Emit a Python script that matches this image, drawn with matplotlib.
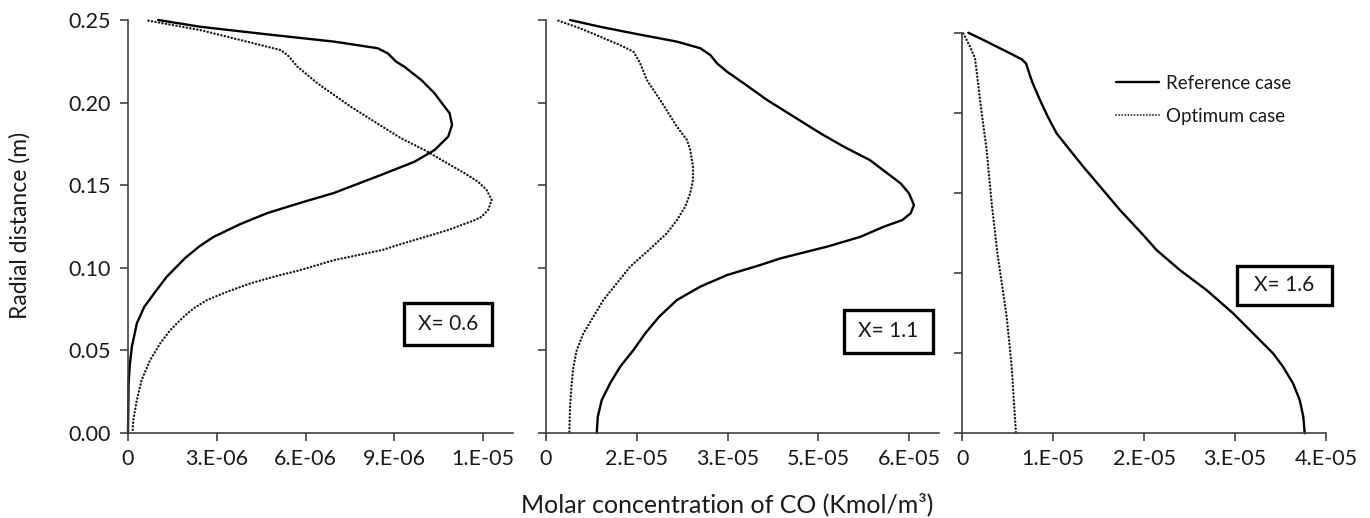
import matplotlib
matplotlib.use("Agg")
import matplotlib.pyplot as plt
from matplotlib.patches import Rectangle
from matplotlib.lines import Line2D

plt.rcParams['font.family'] = ['Lato', 'DejaVu Sans']

# ---------------- data ----------------
# Panel X = 0.6  (radial distance m, concentration Kmol/m3)
p1_ref_r = [0.2500, 0.2459, 0.2413, 0.2369, 0.2329, 0.2298, 0.2248, 0.2217, 0.2137, 0.2056,
            0.1975, 0.1935, 0.1864, 0.1794, 0.1713, 0.1642, 0.1562, 0.1453, 0.1394, 0.1332,
            0.1265, 0.1186, 0.1128, 0.1059, 0.0946, 0.0866, 0.0764, 0.0664, 0.0522, 0.0412,
            0.0303, 0.0]
p1_ref_c = [1.02e-6, 2.44e-6, 4.71e-6, 6.97e-6, 8.44e-6, 8.78e-6, 9.06e-6, 9.34e-6, 9.91e-6, 10.36e-6,
            10.70e-6, 10.87e-6, 10.95e-6, 10.82e-6, 10.36e-6, 9.68e-6, 8.55e-6, 6.96e-6, 5.84e-6, 4.72e-6,
            3.80e-6, 2.88e-6, 2.40e-6, 1.93e-6, 1.31e-6, 0.97e-6, 0.55e-6, 0.30e-6, 0.13e-6, 0.06e-6,
            0.02e-6, 0.0]
p1_opt_r = [0.2496, 0.2439, 0.2389, 0.2318, 0.2288, 0.2217, 0.2117, 0.1975, 0.1854, 0.1784,
            0.1713, 0.1642, 0.1572, 0.1521, 0.1471, 0.1410, 0.1350, 0.1309, 0.1289, 0.1259,
            0.1229, 0.1198, 0.1168, 0.1138, 0.1108, 0.1047, 0.0987, 0.0946, 0.0906, 0.0855,
            0.0805, 0.0755, 0.0704, 0.0623, 0.0543, 0.0442, 0.0321, 0.0200, 0.0079, 0.0]
p1_opt_c = [0.69e-6, 2.44e-6, 3.57e-6, 5.16e-6, 5.39e-6, 5.73e-6, 6.40e-6, 7.53e-6, 8.60e-6, 9.23e-6,
            10.02e-6, 10.70e-6, 11.38e-6, 11.83e-6, 12.12e-6, 12.29e-6, 12.17e-6, 11.95e-6, 11.72e-6, 11.27e-6,
            10.82e-6, 10.25e-6, 9.68e-6, 9.12e-6, 8.60e-6, 6.97e-6, 5.84e-6, 4.93e-6, 4.14e-6, 3.35e-6,
            2.67e-6, 2.22e-6, 1.88e-6, 1.43e-6, 1.09e-6, 0.75e-6, 0.46e-6, 0.30e-6, 0.18e-6, 0.15e-6]

# Panel X = 1.1
p2_ref_r = [0.2500, 0.2459, 0.2419, 0.2369, 0.2329, 0.2288, 0.2238, 0.2187, 0.2117, 0.2016,
            0.1915, 0.1814, 0.1733, 0.1652, 0.1572, 0.1511, 0.1451, 0.1380, 0.1330, 0.1289,
            0.1249, 0.1188, 0.1128, 0.1108, 0.1057, 0.1017, 0.0956, 0.0886, 0.0805, 0.0704,
            0.0603, 0.0502, 0.0401, 0.0301, 0.0200, 0.0099, 0.0]
p2_ref_c = [0.397e-5, 0.894e-5, 1.445e-5, 2.164e-5, 2.550e-5, 2.715e-5, 2.826e-5, 2.992e-5, 3.267e-5, 3.653e-5,
            4.094e-5, 4.536e-5, 4.922e-5, 5.353e-5, 5.641e-5, 5.861e-5, 5.999e-5, 6.081e-5, 6.026e-5, 5.890e-5,
            5.585e-5, 5.199e-5, 4.647e-5, 4.425e-5, 3.874e-5, 3.543e-5, 2.992e-5, 2.550e-5, 2.164e-5, 1.870e-5,
            1.640e-5, 1.445e-5, 1.225e-5, 1.060e-5, 0.922e-5, 0.856e-5, 0.839e-5]
p2_opt_r = [0.2496, 0.2450, 0.2399, 0.2348, 0.2308, 0.2258, 0.2238, 0.2137, 0.2016, 0.1854,
            0.1774, 0.1713, 0.1612, 0.1531, 0.1451, 0.1370, 0.1289, 0.1209, 0.1108, 0.1007,
            0.0906, 0.0805, 0.0704, 0.0603, 0.0502, 0.0401, 0.0301, 0.0159, 0.0]
p2_opt_c = [0.204e-5, 0.563e-5, 0.894e-5, 1.225e-5, 1.445e-5, 1.528e-5, 1.556e-5, 1.667e-5, 1.887e-5, 2.164e-5,
            2.329e-5, 2.384e-5, 2.429e-5, 2.429e-5, 2.384e-5, 2.301e-5, 2.164e-5, 1.997e-5, 1.700e-5, 1.391e-5,
            1.170e-5, 0.949e-5, 0.783e-5, 0.618e-5, 0.508e-5, 0.453e-5, 0.425e-5, 0.397e-5, 0.386e-5]

# Panel X = 1.6
p3_ref_r = [0.2500, 0.2455, 0.2413, 0.2372, 0.2334, 0.2309, 0.2267, 0.2226, 0.2184, 0.2080,
            0.1976, 0.1872, 0.1768, 0.1664, 0.1529, 0.1394, 0.1238, 0.1144, 0.1019, 0.0894,
            0.0749, 0.0603, 0.0499, 0.0416, 0.0312, 0.0208, 0.0104, 0.0]
p3_ref_c = [0.066e-5, 0.231e-5, 0.378e-5, 0.524e-5, 0.653e-5, 0.700e-5, 0.725e-5, 0.748e-5, 0.775e-5, 0.854e-5,
            0.940e-5, 1.037e-5, 1.183e-5, 1.330e-5, 1.532e-5, 1.733e-5, 1.989e-5, 2.136e-5, 2.392e-5, 2.686e-5,
            2.978e-5, 3.235e-5, 3.418e-5, 3.527e-5, 3.637e-5, 3.711e-5, 3.750e-5, 3.766e-5]
p3_opt_r = [0.2496, 0.2413, 0.2340, 0.2226, 0.2080, 0.1924, 0.1768, 0.1435, 0.1120, 0.0728,
            0.0416, 0.0]
p3_opt_c = [0.011e-5, 0.085e-5, 0.140e-5, 0.165e-5, 0.195e-5, 0.231e-5, 0.268e-5, 0.323e-5, 0.387e-5, 0.488e-5,
            0.543e-5, 0.590e-5]

y_ticks = [0.0, 0.05, 0.10, 0.15, 0.20, 0.25]
y_ticklabels = ['0.00', '0.05', '0.10', '0.15', '0.20', '0.25']

p1_xticks = [0, 3e-6, 6e-6, 9e-6, 1.2e-5]
p1_xlabels = ['0', '3.E-06', '6.E-06', '9.E-06', '1.E-05']
p2_xticks = [0, 1.5e-5, 3e-5, 4.5e-5, 6e-5]
p2_xlabels = ['0', '2.E-05', '3.E-05', '5.E-05', '6.E-05']
p3_xticks = [0, 1e-5, 2e-5, 3e-5, 4e-5]
p3_xlabels = ['0', '1.E-05', '2.E-05', '3.E-05', '4.E-05']

panel_titles = ['X= 0.6', 'X= 1.1', 'X= 1.6']
series_names = ['Reference case', 'Optimum case']

# ---------------- figure ----------------
W, H = 1370, 518
fig = plt.figure(figsize=(W / 100, H / 100), dpi=100)

def px_axes(left, top, right, bottom):
    return fig.add_axes([left / W, 1 - bottom / H, (right - left) / W, (bottom - top) / H])

ax1 = px_axes(128, 20, 512.7, 433)
ax2 = px_axes(546, 20, 939.3, 433)
ax3 = px_axes(962.3, 32.7, 1326, 433.3)

axis_col = '#404040'
text_col = '#1a1a1a'
tick_fs = 15.5
dot_style = (0, (0.1, 1.4))
ref_kw = dict(color='black', lw=1.7, solid_capstyle='round', solid_joinstyle='round')
opt_kw = dict(color='#1a1a1a', lw=1.7, linestyle=dot_style, dash_capstyle='round')

panels = [
    (ax1, p1_ref_c, p1_ref_r, p1_opt_c, p1_opt_r, p1_xticks, p1_xlabels, 1.3e-5),
    (ax2, p2_ref_c, p2_ref_r, p2_opt_c, p2_opt_r, p2_xticks, p2_xlabels, 6.5e-5),
    (ax3, p3_ref_c, p3_ref_r, p3_opt_c, p3_opt_r, p3_xticks, p3_xlabels, 4.0e-5),
]

for i, (ax, rc, rr, oc, orr, xt, xl, xmax) in enumerate(panels):
    ax.plot(rc, rr, clip_on=False, label=series_names[0], **ref_kw)
    ax.plot(oc, orr, clip_on=False, label=series_names[1], **opt_kw)
    ax.set_xlim(0, xmax)
    ax.set_ylim(0, 0.25)
    ax.set_xticks(xt)
    ax.set_xticklabels(xl)
    ax.set_yticks(y_ticks)
    if i == 0:
        ax.set_yticklabels(y_ticklabels)
    else:
        ax.set_yticklabels([])
    for s in ['top', 'right']:
        ax.spines[s].set_visible(False)
    for s in ['left', 'bottom']:
        ax.spines[s].set_color(axis_col)
        ax.spines[s].set_linewidth(1.2)
    ax.tick_params(direction='out', length=5.5, width=1.2, color=axis_col,
                   labelsize=tick_fs, labelcolor=text_col)
    ax.tick_params(axis='y', pad=7)
    ax.tick_params(axis='x', pad=6)
    ax.set_facecolor('none')

# annotation boxes (pixel layout)
boxes = [(404, 302.7, 491.7, 345), (844, 310, 932.7, 352.7), (1236.7, 265.7, 1332.3, 305)]
for (l, t, r, b), txt in zip(boxes, panel_titles):
    fig.add_artist(Rectangle((l / W, 1 - b / H), (r - l) / W, (b - t) / H,
                             transform=fig.transFigure, fill=False, lw=2.4,
                             edgecolor='black'))
    fig.text((l + r) / 2 / W, 1 - (t + b) / 2 / H, txt, ha='center', va='center',
             fontsize=15, color=text_col)

# legend
handles = [Line2D([], [], **ref_kw),
           Line2D([], [], color='#262626', lw=1.3, linestyle=(0, (0.1, 1.6)), dash_capstyle='round')]
fig.legend(handles, series_names, loc='upper left',
           bbox_to_anchor=(1116 / W, 1 - 75 / H), bbox_transform=fig.transFigure,
           frameon=False, fontsize=13.5, handlelength=2.3, handletextpad=0.35,
           labelspacing=0.85, borderpad=0, borderaxespad=0, labelcolor=text_col)

# axis titles
fig.text(20 / W, 1 - 225 / H, 'Radial distance (m)', rotation=90, ha='center', va='center',
         fontsize=16.5, color=text_col)
fig.text(727 / W, 1 - 504 / H, 'Molar concentration of CO (Kmol/m³)', ha='center', va='center',
         fontsize=18, color=text_col)

fig.savefig('out.png', dpi=100, facecolor='white')
